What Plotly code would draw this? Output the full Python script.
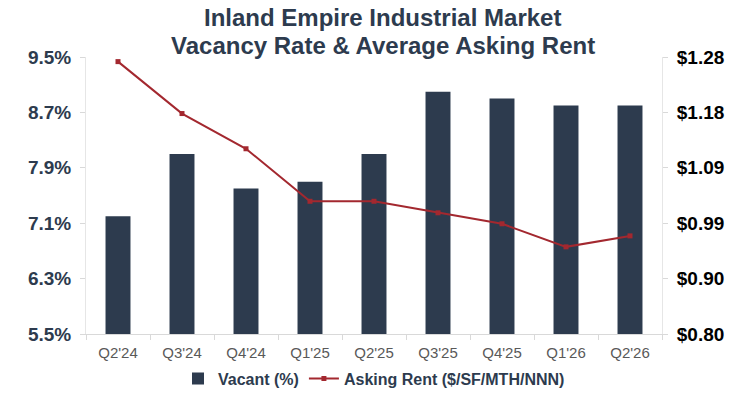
import plotly.graph_objects as go

# Quarters shown on the x axis
quarters = ["Q2'24", "Q3'24", "Q4'24", "Q1'25", "Q2'25", "Q3'25", "Q4'25", "Q1'26", "Q2'26"]

# Vacancy rate (%) - bars, left axis
vacant = [7.2, 8.1, 7.6, 7.7, 8.1, 9.0, 8.9, 8.8, 8.8]

# Average asking rent ($/SF/MTH/NNN) - line, right axis
asking_rent = [1.272, 1.182, 1.121, 1.030, 1.030, 1.010, 0.991, 0.951, 0.970]

# Title lines
title_lines = ["Inland Empire Industrial Market", "Vacancy Rate & Average Asking Rent"]

navy = "#2d3b4e"
red = "#a3282f"
font_fam = "Liberation Sans, Arial, sans-serif"

fig = go.Figure()

fig.add_trace(go.Bar(
    name="Vacant (%)",
    x=quarters,
    y=vacant,
    marker=dict(color=navy, line=dict(width=0)),
    yaxis="y",
))

fig.add_trace(go.Scatter(
    name="Asking Rent ($/SF/MTH/NNN)",
    x=quarters,
    y=asking_rent,
    mode="lines+markers",
    line=dict(color=red, width=2),
    marker=dict(symbol="square", size=5, color=red),
    yaxis="y2",
))

# Title: one annotation per line, to keep the tight line spacing of the reference
for line, ypos in zip(title_lines, [1.144, 1.043]):
    fig.add_annotation(
        text="<b>" + line + "</b>",
        xref="paper", yref="paper",
        x=0.515, xanchor="center",
        y=ypos, yanchor="middle",
        showarrow=False,
        borderpad=0,
        font=dict(size=24, color=navy, family=font_fam),
    )

fig.update_layout(
    width=744,
    height=400,
    paper_bgcolor="white",
    plot_bgcolor="white",
    font=dict(family=font_fam, color=navy),
    margin=dict(l=86, r=82, t=57, b=66, autoexpand=False),
    bargap=0.61,
    showlegend=True,
    legend=dict(
        orientation="h",
        x=0.5, xanchor="center",
        y=-0.1, yanchor="top",
        font=dict(size=16, color=navy, family=font_fam, weight="bold"),
        traceorder="normal",
    ),
    xaxis=dict(
        type="category",
        tickson="boundaries",
        ticks="outside",
        ticklen=5,
        tickcolor="#d9d9d9",
        showline=True,
        linecolor="#d9d9d9",
        linewidth=1,
        showgrid=False,
        ticklabelstandoff=5,
        tickfont=dict(size=15, color="#595959"),
    ),
    yaxis=dict(
        range=[5.5, 9.5],
        dtick=0.8,
        tick0=5.5,
        tickformat=".1f",
        ticksuffix="%",
        showgrid=False,
        zeroline=False,
        showline=True,
        linecolor="#e6e6e6",
        ticks="outside",
        ticklen=5,
        tickcolor="#d9d9d9",
        ticklabelstandoff=5,
        tickfont=dict(size=19, color=navy, weight="bold"),
    ),
    yaxis2=dict(
        overlaying="y",
        side="right",
        range=[0.80, 1.28],
        dtick=0.096,
        tick0=0.80,
        tickformat="$.2f",
        showgrid=False,
        zeroline=False,
        showline=True,
        linecolor="#e6e6e6",
        ticks="outside",
        ticklen=5,
        tickcolor="#d9d9d9",
        ticklabelstandoff=5,
        tickfont=dict(size=19, color="black", weight="bold"),
    ),
)

# Drop the page's default body margin so the figure fills the window exactly
fig.write_html(
    "out.html",
    config={"displayModeBar": False},
    post_script="document.body.style.margin='0';",
)
